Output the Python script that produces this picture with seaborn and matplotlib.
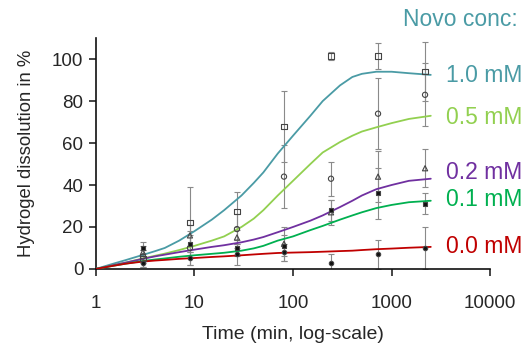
import numpy as np
import pandas as pd
import seaborn as sns
import matplotlib
matplotlib.use('Agg')
import matplotlib.pyplot as plt
from matplotlib.ticker import FixedLocator, NullLocator

# measured points
times = [3, 9, 27, 81, 243, 729, 2187]
conc_labels = ['1.0 mM', '0.5 mM', '0.2 mM', '0.1 mM', '0.0 mM']
means = {
    '1.0 mM': [5, 22, 27.5, 68, 101.5, 101.5, 94],
    '0.5 mM': [6, 10, 19, 44, 43, 74, 83],
    '0.2 mM': [8, 16, 15, 12, 27, 44, 48],
    '0.1 mM': [10, 12, 10, 11, 28, 36, 31],
    '0.0 mM': [3, 5, 7, 8, 3, 7, 10],
}
errs = {
    '1.0 mM': [4, 17, 9, 17, 2, 6, 14],
    '0.5 mM': [3, 8, 7, 15, 8, 17, 15],
    '0.2 mM': [3, 5, 5, 8, 6, 12, 9],
    '0.1 mM': [3, 4, 4, 5, 5, 12, 5],
    '0.0 mM': [2, 3, 5, 4, 4, 7, 10],
}

# fitted curves
fit_t = [1, 1.5, 2, 3, 4, 5, 7, 10, 15, 20, 30, 40, 50, 70, 100, 150, 200,
         300, 400, 500, 700, 1000, 1500, 2500]
fits = {
    '1.0 mM': [0, 2.5, 4.2, 6.7, 8.5, 10, 13.5, 18, 23.5, 28, 35, 41, 46, 55,
               63.5, 73, 80, 87.5, 91.5, 93, 94, 94, 93.3, 92.5],
    '0.5 mM': [0, 1.8, 3, 5, 6.3, 7.3, 9, 11, 13.5, 15.5, 20, 24, 28, 35,
               42, 50, 55.5, 60.5, 63.5, 65.5, 67.5, 69.5, 71.5, 73],
    '0.2 mM': [0, 1.8, 3, 4.8, 6, 6.8, 8, 9.2, 10.5, 11.3, 12.7, 14, 15.2, 17.5,
               20, 23, 25.5, 29.5, 32.5, 35, 38, 40, 42, 43],
    '0.1 mM': [0, 1.5, 2.5, 3.8, 4.5, 5, 5.8, 6.5, 7.2, 7.7, 8.7, 9.8, 11, 13.5,
               15.5, 18.5, 20.5, 23.5, 25.5, 27, 29, 30.5, 31.8, 32.5],
    '0.0 mM': [0, 1.5, 2.5, 3.5, 4, 4.3, 4.8, 5.2, 5.7, 6, 6.5, 6.9, 7.2, 7.6,
               7.8, 8, 8.2, 8.5, 8.7, 9, 9.4, 9.7, 10.1, 10.5],
}

colors = {'1.0 mM': '#4a9ba5', '0.5 mM': '#92d050', '0.2 mM': '#7030a0',
          '0.1 mM': '#00b050', '0.0 mM': '#c00000'}
markers = {'1.0 mM': ('s', 'none'), '0.5 mM': ('o', 'none'), '0.2 mM': ('^', 'none'),
           '0.1 mM': ('s', '#111111'), '0.0 mM': ('o', '#111111')}
label_y = {'1.0 mM': 92.4, '0.5 mM': 72.4, '0.2 mM': 46, '0.1 mM': 33, '0.0 mM': 10.5}

sns.set_style('ticks')
plt.rcParams['font.family'] = ['Liberation Sans', 'DejaVu Sans']

fig = plt.figure(figsize=(5.27, 3.47), dpi=100)
ax = fig.add_axes([0.182, 0.225, 0.748, 0.665])

fit_df = pd.DataFrame([(t, v, c) for c in conc_labels for t, v in zip(fit_t, fits[c])],
                      columns=['time', 'value', 'conc'])
sns.lineplot(data=fit_df, x='time', y='value', hue='conc', palette=colors,
             lw=1.3, legend=False, ax=ax, zorder=3)

for c in conc_labels:
    m, fc = markers[c]
    ax.errorbar(times, means[c], yerr=errs[c], fmt='none', ecolor='#8a8a8a',
                elinewidth=0.8, capsize=2.5, capthick=0.8, zorder=2)
    ax.scatter(times, means[c], marker=m, s=14 if fc == 'none' else 10,
               facecolors=fc, edgecolors='#444444', linewidths=0.8, zorder=4)
    ax.text(3575, label_y[c], c, color=colors[c], fontsize=16.5,
            va='center', ha='left', clip_on=False)

fig.text(460 / 527, 1 - 20 / 347, 'Novo conc:', color='#4a9ba5', fontsize=16.5,
         ha='center', va='center')

ax.set_xscale('log')
ax.set_xlim(1, 10000)
ax.set_ylim(0, 110)
ax.xaxis.set_major_locator(FixedLocator([1, 10, 100, 1000, 10000]))
ax.xaxis.set_minor_locator(NullLocator())
ax.set_xticklabels(['1', '10', '100', '1000', '10000'])
ax.set_yticks([0, 20, 40, 60, 80, 100])
ax.tick_params(axis='x', length=5, width=1.2, pad=14, labelsize=13.5)
ax.tick_params(axis='y', length=5, width=1.2, pad=4, labelsize=13.5)
for s in ['left', 'bottom']:
    ax.spines[s].set_linewidth(1.2)
    ax.spines[s].set_color('#111111')
sns.despine(ax=ax)
ax.set_xlabel('Time (min, log-scale)', fontsize=14, labelpad=10)
ax.set_ylabel('Hydrogel dissolution in %', fontsize=13.3, labelpad=12)

fig.savefig('out.png', dpi=100)
